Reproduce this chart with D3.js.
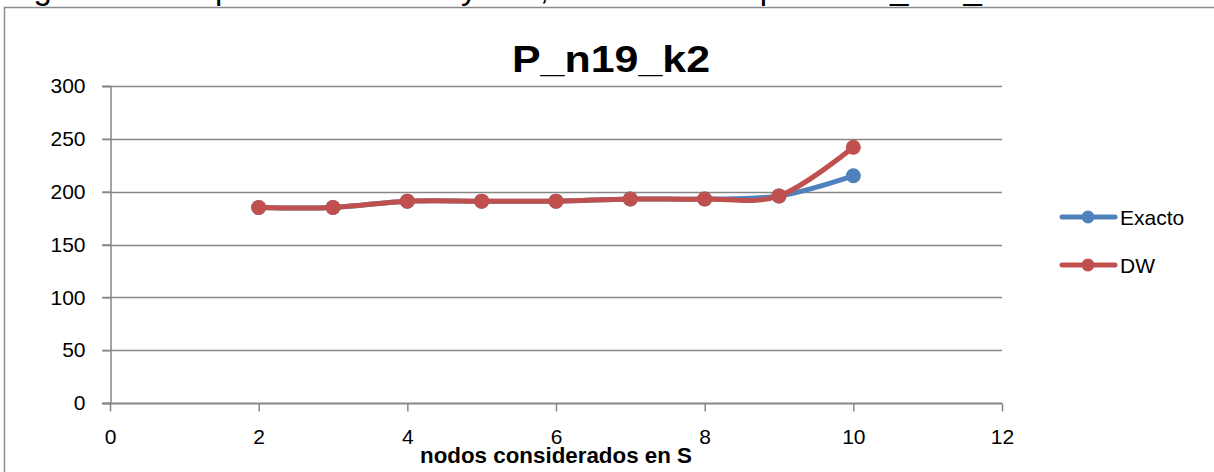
<!DOCTYPE html>
<meta charset="utf-8">
<body style="margin:0;background:#fff">
<script src="https://d3js.org/d3.v7.min.js"></script>
<script>
var width = 1214,
    height = 472;

// data
var nodos = [2, 3, 4, 5, 6, 7, 8, 9, 10];
var exacto = [185, 185, 191, 191, 191, 193, 193, 196, 215];
var dw = [185, 185, 191, 191, 191, 193, 193, 196, 242];
var xTicks = [0, 2, 4, 6, 8, 10, 12];
var yTicks = [0, 50, 100, 150, 200, 250, 300];
var seriesNames = ["Exacto", "DW"];
var seriesColors = ["#4f81bd", "#c0504d"];

var font = "'Liberation Sans', Arial, sans-serif";

var svg = d3.select("body").append("svg")
    .attr("width", width)
    .attr("height", height)
    .style("display", "block");

svg.append("rect")
    .attr("width", width)
    .attr("height", height)
    .attr("fill", "#fff");

// caption of the document, cut at the top (only descenders show)
svg.append("text")
    .attr("x", 6)
    .attr("y", -1)
    .attr("font-family", font)
    .attr("font-size", 33)
    .attr("fill", "#000")
    .text("Figura 3: Comparación Exacto y DW, instancia compuesta P_n19_k2");

// chart frame (only top and left visible)
svg.append("path")
    .attr("d", "M4.5," + height + "V7.5H" + width)
    .attr("fill", "none")
    .attr("stroke", "#8c8c8c")
    .attr("stroke-width", 1.5);

var x = d3.scaleLinear().domain([0, 12]).range([110, 1002]);
var y = d3.scaleLinear().domain([0, 300]).range([403, 86]);

// gridlines
svg.append("g").selectAll("line")
    .data(yTicks.filter(function(d) { return d > 0; }))
    .enter().append("line")
    .attr("x1", 102)
    .attr("x2", x(12))
    .attr("y1", function(d) { return Math.round(y(d)) + 0.5; })
    .attr("y2", function(d) { return Math.round(y(d)) + 0.5; })
    .attr("stroke", "#868686")
    .attr("stroke-width", 1.5);

// y axis
var yAxis = svg.append("g")
    .attr("transform", "translate(" + (x(0) + 0.5) + ",0)")
    .call(d3.axisLeft(y).tickValues(yTicks).tickSize(8).tickPadding(17));
yAxis.select(".domain").attr("stroke", "#868686").attr("stroke-width", 1.5);
yAxis.selectAll(".tick line").attr("stroke", "#868686").attr("stroke-width", 1.5);
yAxis.selectAll(".tick text")
    .attr("font-family", font)
    .attr("font-size", 21)
    .attr("fill", "#000");

// x axis
var xAxis = svg.append("g")
    .attr("transform", "translate(0," + (Math.round(y(0)) + 0.5) + ")")
    .call(d3.axisBottom(x).tickValues(xTicks).tickSize(8).tickSizeOuter(0).tickPadding(18));
xAxis.select(".domain")
    .attr("d", "M102,0H" + x(12))
    .attr("stroke", "#868686").attr("stroke-width", 2);
xAxis.selectAll(".tick line").attr("stroke", "#868686").attr("stroke-width", 1.5);
xAxis.selectAll(".tick text")
    .attr("font-family", font)
    .attr("font-size", 21)
    .attr("fill", "#000");

// titles
svg.append("text")
    .attr("x", 611)
    .attr("y", 72)
    .attr("text-anchor", "middle")
    .attr("font-family", font)
    .attr("font-weight", "bold")
    .attr("font-size", 36)
    .attr("textLength", 198)
    .attr("lengthAdjust", "spacingAndGlyphs")
    .text("P_n19_k2");

svg.append("text")
    .attr("x", 556)
    .attr("y", 463)
    .attr("text-anchor", "middle")
    .attr("font-family", font)
    .attr("font-weight", "bold")
    .attr("font-size", 22)
    .attr("textLength", 272)
    .attr("lengthAdjust", "spacingAndGlyphs")
    .text("nodos considerados en S");

// series
var line = d3.line()
    .x(function(d) { return x(d[0]); })
    .y(function(d) { return y(d[1]); })
    .curve(d3.curveCardinal.tension(0));

[exacto, dw].forEach(function(vals, i) {
    var pts = nodos.map(function(n, j) { return [n, vals[j]]; });
    var g = svg.append("g");
    g.append("path")
        .attr("d", line(pts))
        .attr("fill", "none")
        .attr("stroke", seriesColors[i])
        .attr("stroke-width", 5)
        .attr("stroke-linecap", "round")
        .attr("stroke-linejoin", "round");
    g.selectAll("circle")
        .data(pts)
        .enter().append("circle")
        .attr("cx", function(d) { return x(d[0]); })
        .attr("cy", function(d) { return y(d[1]); })
        .attr("r", 7.5)
        .attr("fill", seriesColors[i]);
});

// legend
var legend = svg.append("g").selectAll("g")
    .data(seriesNames)
    .enter().append("g")
    .attr("transform", function(d, i) { return "translate(0," + (217 + i * 48) + ")"; });

legend.append("line")
    .attr("x1", 1062)
    .attr("x2", 1115)
    .attr("stroke", function(d, i) { return seriesColors[i]; })
    .attr("stroke-width", 5)
    .attr("stroke-linecap", "round");

legend.append("circle")
    .attr("cx", 1088)
    .attr("r", 6.5)
    .attr("fill", function(d, i) { return seriesColors[i]; });

legend.append("text")
    .attr("x", 1120)
    .attr("y", 8)
    .attr("font-family", font)
    .attr("font-size", 21)
    .text(function(d) { return d; });
</script>
</body>
</html>
